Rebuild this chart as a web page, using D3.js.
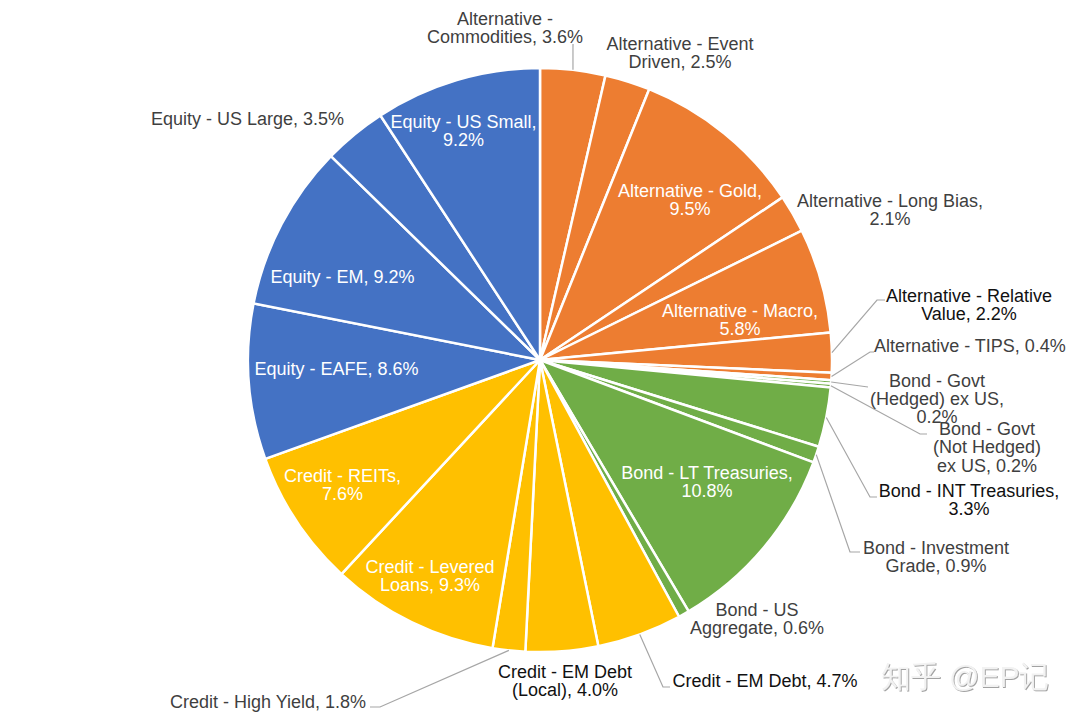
<!DOCTYPE html>
<html>
<head>
<meta charset="utf-8">
<script src="https://cdn.jsdelivr.net/npm/d3@7"></script>
<style>
  html, body { margin: 0; padding: 0; background: #ffffff; }
  svg { display: block; }
  text { font-family: "Liberation Sans", Arial, Helvetica, sans-serif; }
</style>
</head>
<body>
<svg id="chart" width="1080" height="720"></svg>
<script>
// ---------------- Data ----------------
const categories = [
  "Alternative - Commodities", "Alternative - Event Driven", "Alternative - Gold",
  "Alternative - Long Bias", "Alternative - Macro", "Alternative - Relative Value",
  "Alternative - TIPS", "Bond - Govt (Hedged) ex US", "Bond - Govt (Not Hedged) ex US",
  "Bond - INT Treasuries", "Bond - Investment Grade", "Bond - LT Treasuries",
  "Bond - US Aggregate", "Credit - EM Debt", "Credit - EM Debt (Local)",
  "Credit - High Yield", "Credit - Levered Loans", "Credit - REITs",
  "Equity - EAFE", "Equity - EM", "Equity - US Large", "Equity - US Small"
];
const values = [3.6, 2.5, 9.5, 2.1, 5.8, 2.2, 0.4, 0.2, 0.2, 3.3, 0.9, 10.8, 0.6, 4.7, 4.0, 1.8, 9.3, 7.6, 8.6, 9.2, 3.5, 9.2];
const groups = ["Alternative", "Bond", "Credit", "Equity"];
const labelTexts = [
  ["Alternative -", "Commodities, 3.6%"],
  ["Alternative - Event", "Driven, 2.5%"],
  ["Alternative - Gold,", "9.5%"],
  ["Alternative - Long Bias,", "2.1%"],
  ["Alternative - Macro,", "5.8%"],
  ["Alternative - Relative", "Value, 2.2%"],
  ["Alternative - TIPS, 0.4%"],
  ["Bond - Govt", "(Hedged) ex US,", "0.2%"],
  ["Bond - Govt", "(Not Hedged)", "ex US, 0.2%"],
  ["Bond - INT Treasuries,", "3.3%"],
  ["Bond - Investment", "Grade, 0.9%"],
  ["Bond - LT Treasuries,", "10.8%"],
  ["Bond - US", "Aggregate, 0.6%"],
  ["Credit - EM Debt, 4.7%"],
  ["Credit - EM Debt", "(Local), 4.0%"],
  ["Credit - High Yield, 1.8%"],
  ["Credit - Levered", "Loans, 9.3%"],
  ["Credit - REITs,", "7.6%"],
  ["Equity - EAFE, 8.6%"],
  ["Equity - EM, 9.2%"],
  ["Equity - US Large, 3.5%"],
  ["Equity - US Small,", "9.2%"]
];

// ---------------- Layout (positions & styles, separate from data) ----------------
const cx = 540, cy = 360, R = 292;
const groupColors = { Alternative: "#ED7D31", Bond: "#70AD47", Credit: "#FFC000", Equity: "#4472C4" };
// label placement: x = center, y = baseline of first line
const labelLayout = {
  "Alternative - Commodities": { x: 505, y: 25, style: "gray", leader: [[573, 44]] },
  "Alternative - Event Driven": { x: 680, y: 50, style: "gray" },
  "Alternative - Gold": { x: 690, y: 197, style: "white" },
  "Alternative - Long Bias": { x: 890, y: 207, style: "gray" },
  "Alternative - Macro": { x: 740, y: 316.5, style: "white" },
  "Alternative - Relative Value": { x: 969, y: 301.5, style: "black", leader: [[877, 300], [885, 300]] },
  "Alternative - TIPS": { x: 970, y: 352, style: "gray", leader: [[870, 352], [874, 352]] },
  "Bond - Govt (Hedged) ex US": { x: 937, y: 386.5, style: "gray", leader: [[868, 387]] },
  "Bond - Govt (Not Hedged) ex US": { x: 987, y: 435, style: "gray", leader: [[920, 434], [927, 434]] },
  "Bond - INT Treasuries": { x: 969, y: 496.5, style: "black", leader: [[870, 497], [877, 497]] },
  "Bond - Investment Grade": { x: 936, y: 554, style: "gray", leader: [[850, 552], [860, 552]] },
  "Bond - LT Treasuries": { x: 707, y: 479, style: "white" },
  "Bond - US Aggregate": { x: 757, y: 616, style: "gray" },
  "Credit - EM Debt": { x: 765, y: 686.5, style: "black", leader: [[663, 687], [670, 687]] },
  "Credit - EM Debt (Local)": { x: 565, y: 678, style: "black" },
  "Credit - High Yield": { x: 268, y: 707.5, style: "gray", leader: [[380, 707], [370, 707]] },
  "Credit - Levered Loans": { x: 430, y: 573, style: "white" },
  "Credit - REITs": { x: 342.5, y: 481.5, style: "white" },
  "Equity - EAFE": { x: 336.5, y: 375, style: "white" },
  "Equity - EM": { x: 342.5, y: 282.5, style: "white" },
  "Equity - US Large": { x: 247.5, y: 125, style: "gray" },
  "Equity - US Small": { x: 463.5, y: 128, style: "white" }
};
const textColors = { white: "#ffffff", gray: "#3f3f3f", black: "#111111" };
const fontSize = 18;
const lineHeight = 18.3;

// ---------------- Build ----------------
const data = categories.map((c, i) => ({ name: c, value: values[i], group: groups.find(g => c.startsWith(g)), lines: labelTexts[i] }));

const svg = d3.select("#chart");
const color = d3.scaleOrdinal().domain(groups).range(groups.map(g => groupColors[g]));

const pie = d3.pie().value(d => d.value).sort(null).startAngle(0).endAngle(2 * Math.PI);
const arcs = pie(data);
const arc = d3.arc().innerRadius(0).outerRadius(R);

const g = svg.append("g").attr("transform", `translate(${cx},${cy})`);
g.selectAll("path.slice")
  .data(arcs)
  .join("path")
  .attr("class", "slice")
  .attr("d", arc)
  .attr("fill", d => color(d.data.group))
  .attr("stroke", "#ffffff")
  .attr("stroke-width", 2.5)
  .attr("stroke-linejoin", "round");

// leader lines
const lineGen = d3.line();
arcs.forEach(a => {
  const L = labelLayout[a.data.name];
  if (!L.leader) return;
  const mid = (a.startAngle + a.endAngle) / 2;
  const start = [cx + R * Math.sin(mid), cy - R * Math.cos(mid)];
  svg.append("path")
    .attr("d", lineGen([start, ...L.leader]))
    .attr("fill", "none")
    .attr("stroke", "#a6a6a6")
    .attr("stroke-width", 1.2);
});

// labels
arcs.forEach(a => {
  const L = labelLayout[a.data.name];
  const t = svg.append("text")
    .attr("x", L.x).attr("y", L.y)
    .attr("text-anchor", "middle")
    .attr("font-size", fontSize)
    .attr("fill", textColors[L.style]);
  a.data.lines.forEach((ln, i) => {
    t.append("tspan").attr("x", L.x).attr("y", L.y + i * lineHeight).text(ln);
  });
});

// watermark
const defs = svg.append("defs");
const f = defs.append("filter").attr("id", "wm").attr("x", "-10%").attr("y", "-30%").attr("width", "120%").attr("height", "160%");
f.append("feDropShadow").attr("dx", 1).attr("dy", 1).attr("stdDeviation", 0.6).attr("flood-color", "#8a8a8a").attr("flood-opacity", 0.8);
svg.append("text")
  .attr("x", 965).attr("y", 679)
  .attr("text-anchor", "middle")
  .attr("dominant-baseline", "middle")
  .attr("font-size", 30)
  .attr("font-family", "'Noto Sans CJK SC', sans-serif")
  .attr("fill", "#f2f2f2")
  .attr("filter", "url(#wm)")
  .text("知乎 @EP记");
</script>
</body>
</html>
